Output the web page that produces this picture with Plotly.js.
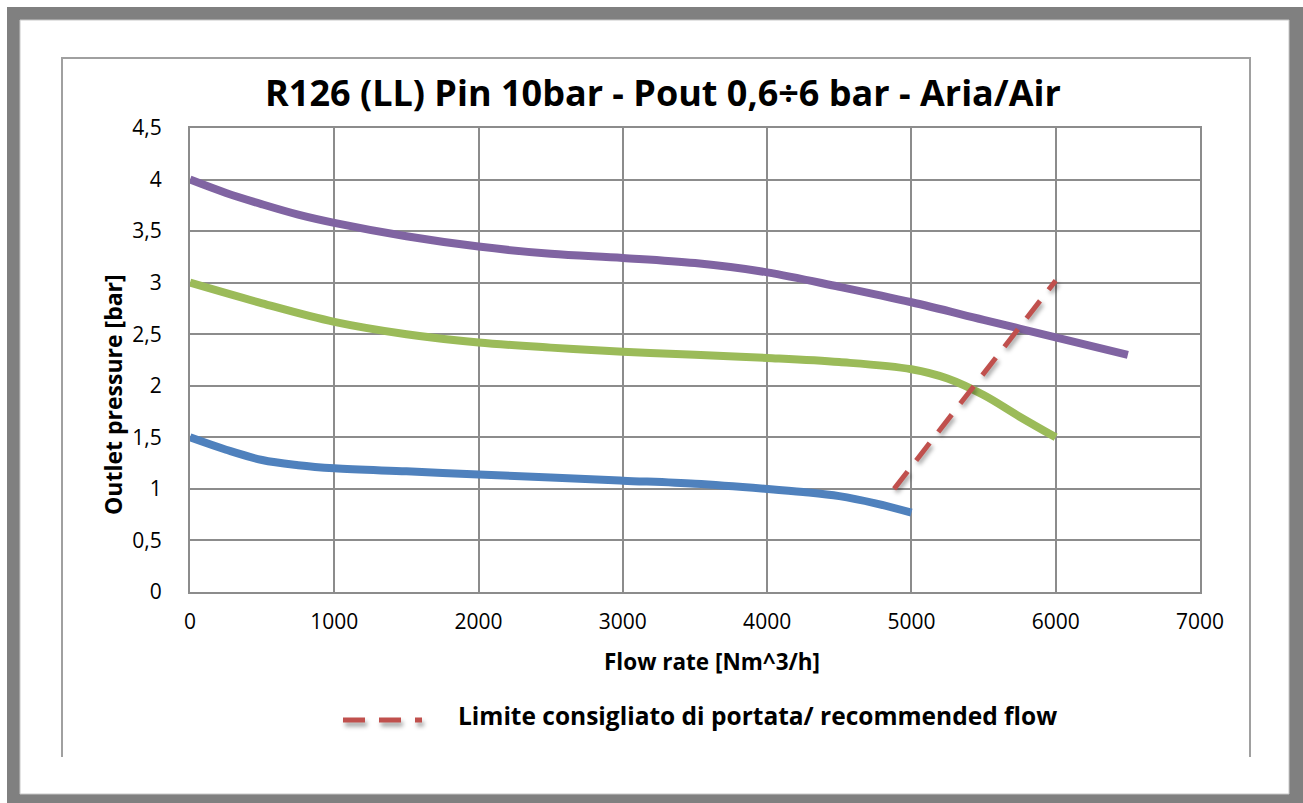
<!DOCTYPE html>
<html>
<head>
<meta charset="utf-8">
<script src="https://cdn.plot.ly/plotly-3.0.1.min.js"></script>
<style>
html,body{margin:0;padding:0;background:#fff;}
#chart{width:1303px;height:803px;}
</style>
</head>
<body>
<div id="chart"></div>
<script>
// ---- data ----
var flowPurple = [0, 250, 500, 750, 1000, 1500, 2000, 2500, 3000, 3500, 4000, 4500, 5000, 5500, 6000, 6500];
var presPurple = [4.0, 3.87, 3.76, 3.66, 3.58, 3.45, 3.35, 3.28, 3.24, 3.19, 3.10, 2.96, 2.81, 2.64, 2.47, 2.30];

var flowGreen = [0, 500, 1000, 1500, 2000, 2500, 3000, 3500, 4000, 4500, 5000, 5250, 5500, 5750, 6000];
var presGreen = [3.0, 2.80, 2.62, 2.50, 2.42, 2.37, 2.33, 2.30, 2.27, 2.23, 2.16, 2.07, 1.91, 1.70, 1.50];

var flowBlue = [0, 250, 500, 750, 1000, 1500, 2000, 2500, 3000, 3500, 4000, 4250, 4500, 4750, 5000];
var presBlue = [1.5, 1.38, 1.28, 1.23, 1.20, 1.17, 1.14, 1.11, 1.08, 1.05, 1.00, 0.97, 0.93, 0.86, 0.77];

var flowLimit = [4880, 6000];
var presLimit = [1.0, 3.02];

var xTickVals = [0, 1000, 2000, 3000, 4000, 5000, 6000, 7000];
var xTickText = ["0", "1000", "2000", "3000", "4000", "5000", "6000", "7000"];
var yTickVals = [0, 0.5, 1, 1.5, 2, 2.5, 3, 3.5, 4, 4.5];
var yTickText = ["0", "0,5", "1", "1,5", "2", "2,5", "3", "3,5", "4", "4,5"];

var titleText = "R126 (LL) Pin 10bar - Pout 0,6÷6 bar - Aria/Air";
var xTitle = "Flow rate [Nm^3/h]";
var yTitle = "Outlet pressure [bar]";
var legendText = "Limite consigliato di portata/ recommended flow";

// ---- layout helpers (pixel -> paper) ----
var W = 1303, H = 803;
var L = 190, R = 1200, T = 128, B = 592;
function px(x){ return (x - L) / (R - L); }
function py(y){ return (B - y) / (B - T); }

var FONT = "'Open Sans', 'Noto Sans', sans-serif";

var traces = [
  {x: flowPurple, y: presPurple, mode: 'lines', line: {color: '#8064A2', width: 8, shape: 'spline', smoothing: 1}, showlegend: false, hoverinfo: 'skip'},
  {x: flowGreen, y: presGreen, mode: 'lines', line: {color: '#9BBB59', width: 8, shape: 'spline', smoothing: 1}, showlegend: false, hoverinfo: 'skip'},
  {x: flowBlue, y: presBlue, mode: 'lines', line: {color: '#4F81BD', width: 8, shape: 'spline', smoothing: 1}, showlegend: false, hoverinfo: 'skip'},
  {x: flowLimit, y: presLimit, mode: 'lines', line: {color: '#C0504D', width: 5, dash: '22px,14px'}, name: legendText, showlegend: false, hoverinfo: 'skip'}
];

var shapes = [
  // outer gray frame
  {type: 'rect', xref: 'paper', yref: 'paper', x0: px(7), x1: px(1303), y0: py(7), y1: py(803), fillcolor: '#808080', line: {width: 0}, layer: 'below'},
  {type: 'rect', xref: 'paper', yref: 'paper', x0: px(20), x1: px(1289), y0: py(20), y1: py(794), fillcolor: '#ffffff', line: {color: '#c8c8c8', width: 1}, layer: 'below'},
  // inner chart frame (open at the bottom)
  {type: 'path', xref: 'paper', yref: 'paper',
   path: 'M ' + px(62) + ' ' + py(757) + ' L ' + px(62) + ' ' + py(58) + ' L ' + px(1250) + ' ' + py(58) + ' L ' + px(1250) + ' ' + py(757),
   line: {color: '#a0a0a0', width: 2}, layer: 'below'},
  // legend sample
  {type: 'line', xref: 'paper', yref: 'paper', x0: px(343), x1: px(422), y0: py(720), y1: py(720), line: {color: '#C0504D', width: 5, dash: '22px,14px'}}
];

var layout = {
  width: W, height: H,
  margin: {l: L, r: W - R, t: T, b: H - B, pad: 0},
  paper_bgcolor: '#ffffff',
  plot_bgcolor: '#e6e6e6',
  showlegend: false,
  font: {family: FONT, color: '#000'},
  title: {text: '<b>' + titleText + '</b>', font: {family: FONT, size: 36, color: '#000'}, xref: 'container', x: 663 / W, xanchor: 'center', yref: 'container', y: 1 - 93 / H, yanchor: 'middle'},
  xaxis: {
    range: [0, 7000], tickvals: xTickVals, ticktext: xTickText, ticks: '', showgrid: true, gridcolor: '#8c8c8c', gridwidth: 2,
    showline: true, linecolor: '#8c8c8c', linewidth: 2, mirror: true, zeroline: false,
    tickfont: {family: FONT, size: 21, color: '#000'}, ticklabelstandoff: 10, fixedrange: true
  },
  yaxis: {
    range: [0, 4.5], tickvals: yTickVals, ticktext: yTickText, ticks: '', showgrid: true, gridcolor: '#8c8c8c', gridwidth: 2,
    showline: true, linecolor: '#8c8c8c', linewidth: 2, mirror: true, zeroline: false,
    tickfont: {family: FONT, size: 21, color: '#000'}, ticklabelstandoff: 22, fixedrange: true
  },
  shapes: shapes,
  annotations: [
    {text: '<b>' + xTitle + '</b>', xref: 'paper', yref: 'paper', x: px(712), y: py(661), xanchor: 'center', yanchor: 'middle', showarrow: false, font: {family: FONT, size: 22.5, color: '#000'}},
    {text: '<b>' + yTitle + '</b>', xref: 'paper', yref: 'paper', x: px(113), y: py(395), xanchor: 'center', yanchor: 'middle', textangle: -90, showarrow: false, font: {family: FONT, size: 23, color: '#000'}},
    {text: '<b>' + legendText + '</b>', xref: 'paper', yref: 'paper', x: px(456), y: py(715), xanchor: 'left', yanchor: 'middle', showarrow: false, font: {family: FONT, size: 24.5, color: '#000'}}
  ]
};

Plotly.newPlot('chart', traces, layout, {displayModeBar: false, staticPlot: true}).then(function(gd){
  var tr = gd.querySelectorAll('.scatterlayer .trace');
  if (tr.length >= 4) { tr[3].style.filter = 'drop-shadow(2px 3px 2px rgba(0,0,0,0.35))'; }
  var shp = gd.querySelectorAll('.layer-above .shapelayer path');
  shp.forEach(function(p){ if ((p.getAttribute('style')||'').indexOf('192, 80, 77') >= 0 || (p.style.stroke||'').indexOf('192') >= 0) p.style.filter = 'drop-shadow(2px 4px 2px rgba(0,0,0,0.35))'; });
});
</script>
</body>
</html>
